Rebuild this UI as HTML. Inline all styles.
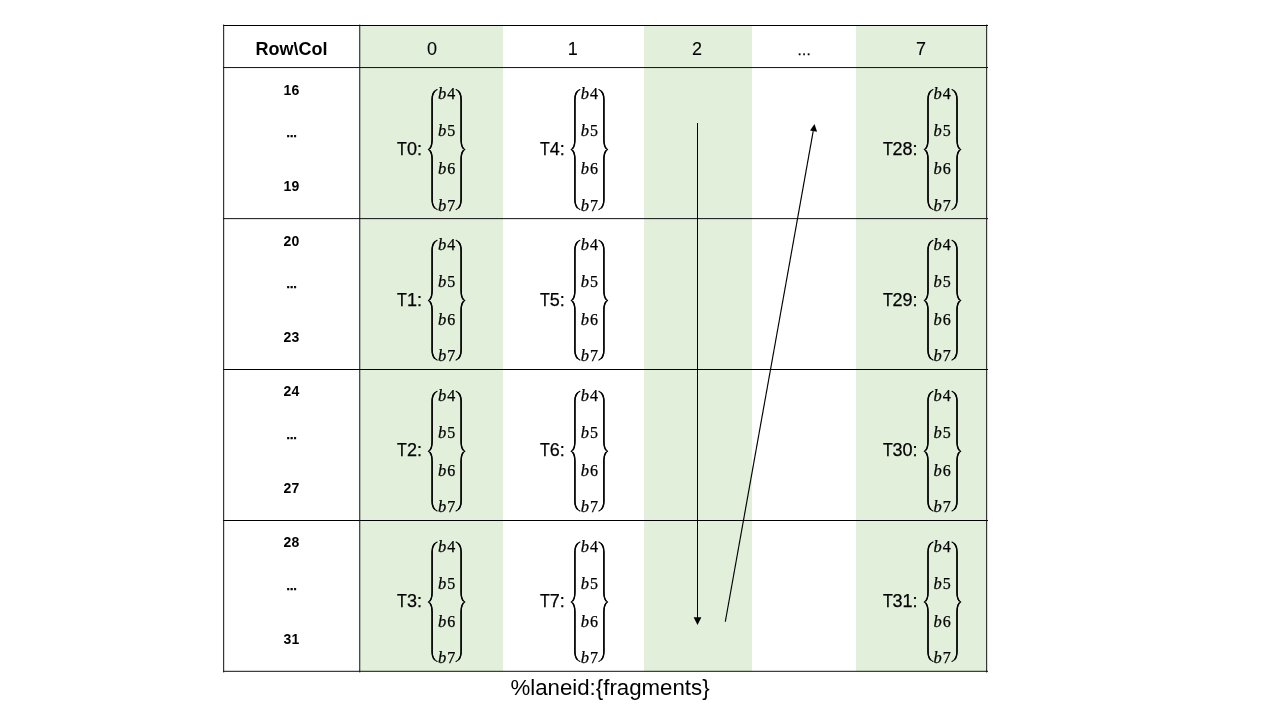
<!DOCTYPE html>
<html lang="en">
<head>
<meta charset="utf-8">
<title>%laneid:{fragments}</title>
<style>
html,body{margin:0;padding:0;background:#fff;}
body{width:1280px;height:720px;position:relative;overflow:hidden;font-family:"Liberation Sans",sans-serif;color:#000;}
.g{position:absolute;top:26px;height:645px;background:#E2EFDA;}
#txt{position:absolute;left:0;top:0;width:1280px;height:720px;will-change:transform;}
.t{position:absolute;text-align:center;white-space:nowrap;font-family:"Liberation Sans",sans-serif;}
.hb{font-weight:bold;font-size:18px;line-height:36px;}
.hd{font-size:18px;line-height:36px;-webkit-text-stroke:0.1px #000;}
.he{font-size:14.2px;line-height:28px;-webkit-text-stroke:0.3px #000;}
.lab{font-weight:bold;font-size:14px;line-height:28px;}
.le{font-weight:bold;font-size:10.8px;line-height:22px;-webkit-text-stroke:0.6px #000;}
.lb{text-align:right;font-size:18px;line-height:36px;-webkit-text-stroke:0.25px #000;}
.lb b{display:inline-block;font-weight:normal;transform:scaleX(0.89);transform-origin:0 50%;margin-right:-1.25px;}
.m{font-family:"Liberation Serif",serif;font-size:16px;line-height:32px;-webkit-text-stroke:0.25px #000;}
.m i{font-style:italic;font-size:16.5px;margin-right:0.9px;}
.cap{font-size:22.25px;line-height:44px;}
svg{position:absolute;left:0;top:0;}
</style>
</head>
<body>

<div class="g" style="left:360px;width:143px"></div>
<div class="g" style="left:644px;width:108px"></div>
<div class="g" style="left:856px;width:130px"></div>
<div id="txt">
<div class="t hb" style="left:223.50px;top:31px;width:136px">Row\Col</div>
<div class="t hd" style="left:382.00px;top:31px;width:100px">0</div>
<div class="t hd" style="left:522.70px;top:31px;width:100px">1</div>
<div class="t hd" style="left:647.00px;top:31px;width:100px">2</div>
<div class="t hd" style="left:871.00px;top:31px;width:100px">7</div>
<div class="t he" style="left:754.00px;top:36px;width:100px">…</div>
<div class="t lab" style="left:223.40px;top:76px;width:136px">16</div>
<div class="t le" style="left:223.70px;top:122px;width:136px">…</div>
<div class="t lab" style="left:223.40px;top:172px;width:136px">19</div>
<div class="t lab" style="left:223.40px;top:227px;width:136px">20</div>
<div class="t le" style="left:223.70px;top:273px;width:136px">…</div>
<div class="t lab" style="left:223.40px;top:323px;width:136px">23</div>
<div class="t lab" style="left:223.40px;top:377px;width:136px">24</div>
<div class="t le" style="left:223.70px;top:424px;width:136px">…</div>
<div class="t lab" style="left:223.40px;top:474px;width:136px">27</div>
<div class="t lab" style="left:223.40px;top:528px;width:136px">28</div>
<div class="t le" style="left:223.70px;top:575px;width:136px">…</div>
<div class="t lab" style="left:223.40px;top:625px;width:136px">31</div>
<div class="t lb" style="left:361.90px;top:131px;width:60px"><b>T</b>0:</div>
<div class="t m" style="left:426.60px;top:78px;width:40px"><i>b</i>4</div>
<div class="t m" style="left:426.60px;top:115px;width:40px"><i>b</i>5</div>
<div class="t m" style="left:426.60px;top:153px;width:40px"><i>b</i>6</div>
<div class="t m" style="left:426.60px;top:190px;width:40px"><i>b</i>7</div>
<div class="t lb" style="left:504.70px;top:131px;width:60px"><b>T</b>4:</div>
<div class="t m" style="left:569.40px;top:78px;width:40px"><i>b</i>4</div>
<div class="t m" style="left:569.40px;top:115px;width:40px"><i>b</i>5</div>
<div class="t m" style="left:569.40px;top:153px;width:40px"><i>b</i>6</div>
<div class="t m" style="left:569.40px;top:190px;width:40px"><i>b</i>7</div>
<div class="t lb" style="left:857.50px;top:131px;width:60px"><b>T</b>28:</div>
<div class="t m" style="left:922.20px;top:78px;width:40px"><i>b</i>4</div>
<div class="t m" style="left:922.20px;top:115px;width:40px"><i>b</i>5</div>
<div class="t m" style="left:922.20px;top:153px;width:40px"><i>b</i>6</div>
<div class="t m" style="left:922.20px;top:190px;width:40px"><i>b</i>7</div>
<div class="t lb" style="left:361.90px;top:282px;width:60px"><b>T</b>1:</div>
<div class="t m" style="left:426.60px;top:229px;width:40px"><i>b</i>4</div>
<div class="t m" style="left:426.60px;top:266px;width:40px"><i>b</i>5</div>
<div class="t m" style="left:426.60px;top:304px;width:40px"><i>b</i>6</div>
<div class="t m" style="left:426.60px;top:340px;width:40px"><i>b</i>7</div>
<div class="t lb" style="left:504.70px;top:282px;width:60px"><b>T</b>5:</div>
<div class="t m" style="left:569.40px;top:229px;width:40px"><i>b</i>4</div>
<div class="t m" style="left:569.40px;top:266px;width:40px"><i>b</i>5</div>
<div class="t m" style="left:569.40px;top:304px;width:40px"><i>b</i>6</div>
<div class="t m" style="left:569.40px;top:340px;width:40px"><i>b</i>7</div>
<div class="t lb" style="left:857.50px;top:282px;width:60px"><b>T</b>29:</div>
<div class="t m" style="left:922.20px;top:229px;width:40px"><i>b</i>4</div>
<div class="t m" style="left:922.20px;top:266px;width:40px"><i>b</i>5</div>
<div class="t m" style="left:922.20px;top:304px;width:40px"><i>b</i>6</div>
<div class="t m" style="left:922.20px;top:340px;width:40px"><i>b</i>7</div>
<div class="t lb" style="left:361.90px;top:432px;width:60px"><b>T</b>2:</div>
<div class="t m" style="left:426.60px;top:380px;width:40px"><i>b</i>4</div>
<div class="t m" style="left:426.60px;top:417px;width:40px"><i>b</i>5</div>
<div class="t m" style="left:426.60px;top:455px;width:40px"><i>b</i>6</div>
<div class="t m" style="left:426.60px;top:491px;width:40px"><i>b</i>7</div>
<div class="t lb" style="left:504.70px;top:432px;width:60px"><b>T</b>6:</div>
<div class="t m" style="left:569.40px;top:380px;width:40px"><i>b</i>4</div>
<div class="t m" style="left:569.40px;top:417px;width:40px"><i>b</i>5</div>
<div class="t m" style="left:569.40px;top:455px;width:40px"><i>b</i>6</div>
<div class="t m" style="left:569.40px;top:491px;width:40px"><i>b</i>7</div>
<div class="t lb" style="left:857.50px;top:432px;width:60px"><b>T</b>30:</div>
<div class="t m" style="left:922.20px;top:380px;width:40px"><i>b</i>4</div>
<div class="t m" style="left:922.20px;top:417px;width:40px"><i>b</i>5</div>
<div class="t m" style="left:922.20px;top:455px;width:40px"><i>b</i>6</div>
<div class="t m" style="left:922.20px;top:491px;width:40px"><i>b</i>7</div>
<div class="t lb" style="left:361.90px;top:583px;width:60px"><b>T</b>3:</div>
<div class="t m" style="left:426.60px;top:531px;width:40px"><i>b</i>4</div>
<div class="t m" style="left:426.60px;top:568px;width:40px"><i>b</i>5</div>
<div class="t m" style="left:426.60px;top:606px;width:40px"><i>b</i>6</div>
<div class="t m" style="left:426.60px;top:642px;width:40px"><i>b</i>7</div>
<div class="t lb" style="left:504.70px;top:583px;width:60px"><b>T</b>7:</div>
<div class="t m" style="left:569.40px;top:531px;width:40px"><i>b</i>4</div>
<div class="t m" style="left:569.40px;top:568px;width:40px"><i>b</i>5</div>
<div class="t m" style="left:569.40px;top:606px;width:40px"><i>b</i>6</div>
<div class="t m" style="left:569.40px;top:642px;width:40px"><i>b</i>7</div>
<div class="t lb" style="left:857.50px;top:583px;width:60px"><b>T</b>31:</div>
<div class="t m" style="left:922.20px;top:531px;width:40px"><i>b</i>4</div>
<div class="t m" style="left:922.20px;top:568px;width:40px"><i>b</i>5</div>
<div class="t m" style="left:922.20px;top:606px;width:40px"><i>b</i>6</div>
<div class="t m" style="left:922.20px;top:642px;width:40px"><i>b</i>7</div>
<div class="t cap" style="left:460.00px;top:666px;width:300px">%laneid:{fragments}</div>
</div>
<svg width="1280" height="720" viewBox="0 0 1280 720" aria-hidden="true">
<rect x="223" y="25" width="765" height="1" fill="#000"/>
<rect x="223" y="67.05" width="765" height="1" fill="#111"/>
<rect x="223" y="218.12" width="765" height="1" fill="#111"/>
<rect x="223" y="369" width="765" height="1" fill="#000"/>
<rect x="223" y="520" width="765" height="1" fill="#000"/>
<rect x="223" y="670.8" width="765" height="1" fill="#111"/>
<rect x="223.16" y="24.6" width="1" height="647.8" fill="#111"/>
<rect x="359.25" y="24.6" width="1" height="647.8" fill="#111"/>
<rect x="986.16" y="24.6" width="1" height="647.8" fill="#111"/>
<path d="M437.1 89.5C433.6 91.1 432.1 94.5 432.1 99.5V139.5C432.1 145.5 430.6 148.5 428.4 149.5C430.6 150.5 432.1 153.5 432.1 159.5V199.6C432.1 204.6 433.6 208.0 437.1 209.6M456.1 89.5C459.6 91.1 461.1 94.5 461.1 99.5V139.5C461.1 145.5 462.6 148.5 464.8 149.5C462.6 150.5 461.1 153.5 461.1 159.5V199.6C461.1 204.6 459.6 208.0 456.1 209.6M579.9 89.5C576.4 91.1 574.9 94.5 574.9 99.5V139.5C574.9 145.5 573.4 148.5 571.2 149.5C573.4 150.5 574.9 153.5 574.9 159.5V199.6C574.9 204.6 576.4 208.0 579.9 209.6M598.9 89.5C602.4 91.1 603.9 94.5 603.9 99.5V139.5C603.9 145.5 605.4 148.5 607.6 149.5C605.4 150.5 603.9 153.5 603.9 159.5V199.6C603.9 204.6 602.4 208.0 598.9 209.6M933.0 89.5C929.5 91.1 928.0 94.5 928.0 99.5V139.5C928.0 145.5 926.5 148.5 924.3 149.5C926.5 150.5 928.0 153.5 928.0 159.5V199.6C928.0 204.6 929.5 208.0 933.0 209.6M952.0 89.5C955.5 91.1 957.0 94.5 957.0 99.5V139.5C957.0 145.5 958.5 148.5 960.7 149.5C958.5 150.5 957.0 153.5 957.0 159.5V199.6C957.0 204.6 955.5 208.0 952.0 209.6M437.1 240.3C433.6 241.9 432.1 245.3 432.1 250.3V290.5C432.1 296.5 430.6 299.5 428.4 300.5C430.6 301.5 432.1 304.5 432.1 310.5V350.1C432.1 355.1 433.6 358.5 437.1 360.1M456.1 240.3C459.6 241.9 461.1 245.3 461.1 250.3V290.5C461.1 296.5 462.6 299.5 464.8 300.5C462.6 301.5 461.1 304.5 461.1 310.5V350.1C461.1 355.1 459.6 358.5 456.1 360.1M579.9 240.3C576.4 241.9 574.9 245.3 574.9 250.3V290.5C574.9 296.5 573.4 299.5 571.2 300.5C573.4 301.5 574.9 304.5 574.9 310.5V350.1C574.9 355.1 576.4 358.5 579.9 360.1M598.9 240.3C602.4 241.9 603.9 245.3 603.9 250.3V290.5C603.9 296.5 605.4 299.5 607.6 300.5C605.4 301.5 603.9 304.5 603.9 310.5V350.1C603.9 355.1 602.4 358.5 598.9 360.1M933.0 240.3C929.5 241.9 928.0 245.3 928.0 250.3V290.5C928.0 296.5 926.5 299.5 924.3 300.5C926.5 301.5 928.0 304.5 928.0 310.5V350.1C928.0 355.1 929.5 358.5 933.0 360.1M952.0 240.3C955.5 241.9 957.0 245.3 957.0 250.3V290.5C957.0 296.5 958.5 299.5 960.7 300.5C958.5 301.5 957.0 304.5 957.0 310.5V350.1C957.0 355.1 955.5 358.5 952.0 360.1M437.1 391.3C433.6 392.9 432.1 396.3 432.1 401.3V441.3C432.1 447.3 430.6 450.3 428.4 451.3C430.6 452.3 432.1 455.3 432.1 461.3V500.9C432.1 505.9 433.6 509.3 437.1 510.9M456.1 391.3C459.6 392.9 461.1 396.3 461.1 401.3V441.3C461.1 447.3 462.6 450.3 464.8 451.3C462.6 452.3 461.1 455.3 461.1 461.3V500.9C461.1 505.9 459.6 509.3 456.1 510.9M579.9 391.3C576.4 392.9 574.9 396.3 574.9 401.3V441.3C574.9 447.3 573.4 450.3 571.2 451.3C573.4 452.3 574.9 455.3 574.9 461.3V500.9C574.9 505.9 576.4 509.3 579.9 510.9M598.9 391.3C602.4 392.9 603.9 396.3 603.9 401.3V441.3C603.9 447.3 605.4 450.3 607.6 451.3C605.4 452.3 603.9 455.3 603.9 461.3V500.9C603.9 505.9 602.4 509.3 598.9 510.9M933.0 391.3C929.5 392.9 928.0 396.3 928.0 401.3V441.3C928.0 447.3 926.5 450.3 924.3 451.3C926.5 452.3 928.0 455.3 928.0 461.3V500.9C928.0 505.9 929.5 509.3 933.0 510.9M952.0 391.3C955.5 392.9 957.0 396.3 957.0 401.3V441.3C957.0 447.3 958.5 450.3 960.7 451.3C958.5 452.3 957.0 455.3 957.0 461.3V500.9C957.0 505.9 955.5 509.3 952.0 510.9M437.1 542.1C433.6 543.7 432.1 547.1 432.1 552.1V592.1C432.1 598.1 430.6 601.1 428.4 602.1C430.6 603.1 432.1 606.1 432.1 612.1V651.5C432.1 656.5 433.6 659.9 437.1 661.5M456.1 542.1C459.6 543.7 461.1 547.1 461.1 552.1V592.1C461.1 598.1 462.6 601.1 464.8 602.1C462.6 603.1 461.1 606.1 461.1 612.1V651.5C461.1 656.5 459.6 659.9 456.1 661.5M579.9 542.1C576.4 543.7 574.9 547.1 574.9 552.1V592.1C574.9 598.1 573.4 601.1 571.2 602.1C573.4 603.1 574.9 606.1 574.9 612.1V651.5C574.9 656.5 576.4 659.9 579.9 661.5M598.9 542.1C602.4 543.7 603.9 547.1 603.9 552.1V592.1C603.9 598.1 605.4 601.1 607.6 602.1C605.4 603.1 603.9 606.1 603.9 612.1V651.5C603.9 656.5 602.4 659.9 598.9 661.5M933.0 542.1C929.5 543.7 928.0 547.1 928.0 552.1V592.1C928.0 598.1 926.5 601.1 924.3 602.1C926.5 603.1 928.0 606.1 928.0 612.1V651.5C928.0 656.5 929.5 659.9 933.0 661.5M952.0 542.1C955.5 543.7 957.0 547.1 957.0 552.1V592.1C957.0 598.1 958.5 601.1 960.7 602.1C958.5 603.1 957.0 606.1 957.0 612.1V651.5C957.0 656.5 955.5 659.9 952.0 661.5" fill="none" stroke="#000" stroke-width="1.15" stroke-linecap="round" stroke-linejoin="round"/>
<path d="M434.5 91.4C432.8 93.3 432.1 96.0 432.1 99.5V139.5C432.1 143.7 431.4 146.4 430.2 148.0M430.2 151.0C431.4 152.6 432.1 155.3 432.1 159.5V199.6C432.1 203.1 432.8 205.8 434.5 207.7M458.7 91.4C460.4 93.3 461.1 96.0 461.1 99.5V139.5C461.1 143.7 461.8 146.4 463.0 148.0M463.0 151.0C461.8 152.6 461.1 155.3 461.1 159.5V199.6C461.1 203.1 460.4 205.8 458.7 207.7M577.3 91.4C575.6 93.3 574.9 96.0 574.9 99.5V139.5C574.9 143.7 574.2 146.4 573.0 148.0M573.0 151.0C574.2 152.6 574.9 155.3 574.9 159.5V199.6C574.9 203.1 575.6 205.8 577.3 207.7M601.5 91.4C603.2 93.3 603.9 96.0 603.9 99.5V139.5C603.9 143.7 604.6 146.4 605.8 148.0M605.8 151.0C604.6 152.6 603.9 155.3 603.9 159.5V199.6C603.9 203.1 603.2 205.8 601.5 207.7M930.4 91.4C928.7 93.3 928.0 96.0 928.0 99.5V139.5C928.0 143.7 927.3 146.4 926.1 148.0M926.1 151.0C927.3 152.6 928.0 155.3 928.0 159.5V199.6C928.0 203.1 928.7 205.8 930.4 207.7M954.6 91.4C956.3 93.3 957.0 96.0 957.0 99.5V139.5C957.0 143.7 957.7 146.4 958.9 148.0M958.9 151.0C957.7 152.6 957.0 155.3 957.0 159.5V199.6C957.0 203.1 956.3 205.8 954.6 207.7M434.5 242.2C432.8 244.1 432.1 246.8 432.1 250.3V290.5C432.1 294.7 431.4 297.4 430.2 299.0M430.2 302.0C431.4 303.6 432.1 306.3 432.1 310.5V350.1C432.1 353.6 432.8 356.3 434.5 358.2M458.7 242.2C460.4 244.1 461.1 246.8 461.1 250.3V290.5C461.1 294.7 461.8 297.4 463.0 299.0M463.0 302.0C461.8 303.6 461.1 306.3 461.1 310.5V350.1C461.1 353.6 460.4 356.3 458.7 358.2M577.3 242.2C575.6 244.1 574.9 246.8 574.9 250.3V290.5C574.9 294.7 574.2 297.4 573.0 299.0M573.0 302.0C574.2 303.6 574.9 306.3 574.9 310.5V350.1C574.9 353.6 575.6 356.3 577.3 358.2M601.5 242.2C603.2 244.1 603.9 246.8 603.9 250.3V290.5C603.9 294.7 604.6 297.4 605.8 299.0M605.8 302.0C604.6 303.6 603.9 306.3 603.9 310.5V350.1C603.9 353.6 603.2 356.3 601.5 358.2M930.4 242.2C928.7 244.1 928.0 246.8 928.0 250.3V290.5C928.0 294.7 927.3 297.4 926.1 299.0M926.1 302.0C927.3 303.6 928.0 306.3 928.0 310.5V350.1C928.0 353.6 928.7 356.3 930.4 358.2M954.6 242.2C956.3 244.1 957.0 246.8 957.0 250.3V290.5C957.0 294.7 957.7 297.4 958.9 299.0M958.9 302.0C957.7 303.6 957.0 306.3 957.0 310.5V350.1C957.0 353.6 956.3 356.3 954.6 358.2M434.5 393.2C432.8 395.1 432.1 397.8 432.1 401.3V441.3C432.1 445.5 431.4 448.2 430.2 449.8M430.2 452.8C431.4 454.4 432.1 457.1 432.1 461.3V500.9C432.1 504.4 432.8 507.1 434.5 509.0M458.7 393.2C460.4 395.1 461.1 397.8 461.1 401.3V441.3C461.1 445.5 461.8 448.2 463.0 449.8M463.0 452.8C461.8 454.4 461.1 457.1 461.1 461.3V500.9C461.1 504.4 460.4 507.1 458.7 509.0M577.3 393.2C575.6 395.1 574.9 397.8 574.9 401.3V441.3C574.9 445.5 574.2 448.2 573.0 449.8M573.0 452.8C574.2 454.4 574.9 457.1 574.9 461.3V500.9C574.9 504.4 575.6 507.1 577.3 509.0M601.5 393.2C603.2 395.1 603.9 397.8 603.9 401.3V441.3C603.9 445.5 604.6 448.2 605.8 449.8M605.8 452.8C604.6 454.4 603.9 457.1 603.9 461.3V500.9C603.9 504.4 603.2 507.1 601.5 509.0M930.4 393.2C928.7 395.1 928.0 397.8 928.0 401.3V441.3C928.0 445.5 927.3 448.2 926.1 449.8M926.1 452.8C927.3 454.4 928.0 457.1 928.0 461.3V500.9C928.0 504.4 928.7 507.1 930.4 509.0M954.6 393.2C956.3 395.1 957.0 397.8 957.0 401.3V441.3C957.0 445.5 957.7 448.2 958.9 449.8M958.9 452.8C957.7 454.4 957.0 457.1 957.0 461.3V500.9C957.0 504.4 956.3 507.1 954.6 509.0M434.5 544.0C432.8 545.9 432.1 548.6 432.1 552.1V592.1C432.1 596.3 431.4 599.0 430.2 600.6M430.2 603.6C431.4 605.2 432.1 607.9 432.1 612.1V651.5C432.1 655.0 432.8 657.7 434.5 659.6M458.7 544.0C460.4 545.9 461.1 548.6 461.1 552.1V592.1C461.1 596.3 461.8 599.0 463.0 600.6M463.0 603.6C461.8 605.2 461.1 607.9 461.1 612.1V651.5C461.1 655.0 460.4 657.7 458.7 659.6M577.3 544.0C575.6 545.9 574.9 548.6 574.9 552.1V592.1C574.9 596.3 574.2 599.0 573.0 600.6M573.0 603.6C574.2 605.2 574.9 607.9 574.9 612.1V651.5C574.9 655.0 575.6 657.7 577.3 659.6M601.5 544.0C603.2 545.9 603.9 548.6 603.9 552.1V592.1C603.9 596.3 604.6 599.0 605.8 600.6M605.8 603.6C604.6 605.2 603.9 607.9 603.9 612.1V651.5C603.9 655.0 603.2 657.7 601.5 659.6M930.4 544.0C928.7 545.9 928.0 548.6 928.0 552.1V592.1C928.0 596.3 927.3 599.0 926.1 600.6M926.1 603.6C927.3 605.2 928.0 607.9 928.0 612.1V651.5C928.0 655.0 928.7 657.7 930.4 659.6M954.6 544.0C956.3 545.9 957.0 548.6 957.0 552.1V592.1C957.0 596.3 957.7 599.0 958.9 600.6M958.9 603.6C957.7 605.2 957.0 607.9 957.0 612.1V651.5C957.0 655.0 956.3 657.7 954.6 659.6" fill="none" stroke="#000" stroke-width="1.45" stroke-linecap="round"/>
<path d="M697.5 123V618" fill="none" stroke="#000" stroke-width="1"/>
<path d="M693.6 617.2H701.4L697.5 625Z" fill="#000"/>
<path d="M725.3 621.75L813.2 131.2" fill="none" stroke="#000" stroke-width="1.15"/>
<path d="M814.5 123.9L817.1 131.8L810 130.5Z" fill="#000"/>
</svg>
</body>
</html>
